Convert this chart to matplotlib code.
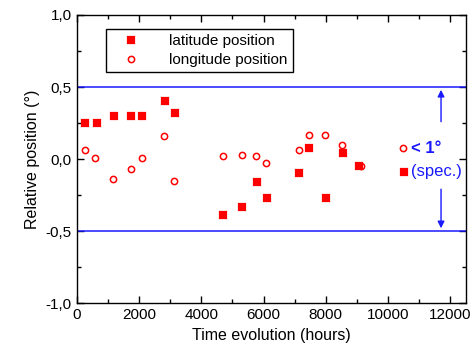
import matplotlib
matplotlib.use("Agg")
import matplotlib.pyplot as plt
from matplotlib.ticker import MultipleLocator, FixedLocator, FixedFormatter

plt.rcParams['font.family'] = ['Liberation Sans', 'DejaVu Sans']
plt.rcParams['font.size'] = 11

# latitude position (hours, degrees)
lat_t = [250, 650, 1200, 1750, 2100, 2830, 3150, 4700, 5300, 5800, 6100,
         7150, 7470, 8000, 8550, 9050, 10500]
lat_v = [0.25, 0.25, 0.30, 0.30, 0.30, 0.40, 0.32, -0.39, -0.33, -0.16, -0.27,
         -0.10, 0.074, -0.27, 0.04, -0.05, -0.09]

# longitude position (hours, degrees)
lon_t = [250, 600, 1170, 1750, 2080, 2800, 3120, 4700, 5300, 5760, 6090,
         7140, 7470, 7970, 8510, 9130, 10470]
lon_v = [0.06, 0.01, -0.14, -0.07, 0.01, 0.16, -0.15, 0.02, 0.03, 0.02, -0.03,
         0.06, 0.17, 0.17, 0.095, -0.05, 0.075]

spec = 0.5                     # +/- spec limit
y_ticks = [-1.0, -0.5, 0.0, 0.5, 1.0]
y_labels = ['-1,0', '-0,5', '0,0', '0,5', '1,0']

blue = '#1a1aff'

fig = plt.figure(figsize=(4.74, 3.57), dpi=100)
ax = fig.add_axes([0.162, 0.151, 0.821, 0.807])

# latitude: red square with a small white mark inside
sq_out, = ax.plot(lat_t, lat_v, 's', ms=5, mfc='white', mec='red', mew=1.6, ls='none')
sq_in, = ax.plot(lat_t, lat_v, 's', ms=2.6, mfc='red', mec='red', mew=0, ls='none')
circ, = ax.plot(lon_t, lon_v, 'o', ms=4.5, mfc='none', mec='red', mew=1.1, ls='none')

# spec lines
ax.axhline(spec, color=blue, lw=1.1)
ax.axhline(-spec, color=blue, lw=1.1)

# arrows and annotation
ax.annotate('', xy=(11700, spec), xytext=(11700, 0.24),
            arrowprops=dict(arrowstyle='-|>', color=blue, lw=1, mutation_scale=10))
ax.annotate('', xy=(11700, -spec), xytext=(11700, -0.19),
            arrowprops=dict(arrowstyle='-|>', color=blue, lw=1, mutation_scale=10))
ax.text(10720, 0.075, '< 1°', color=blue, fontsize=12, fontweight='bold', va='center', ha='left')
ax.text(10720, -0.085, '(spec.)', color=blue, fontsize=12, va='center', ha='left')

ax.set_xlim(0, 12500)
ax.set_ylim(-1.0, 1.0)
ax.xaxis.set_major_locator(MultipleLocator(2000))
ax.xaxis.set_minor_locator(MultipleLocator(1000))
ax.yaxis.set_major_locator(FixedLocator(y_ticks))
ax.yaxis.set_major_formatter(FixedFormatter(y_labels))
ax.yaxis.set_minor_locator(MultipleLocator(0.25))
ax.tick_params(which='both', direction='in', top=True, right=True, width=1, labelsize=11)
ax.tick_params(which='major', length=5)
ax.tick_params(which='minor', length=3)
for s in ax.spines.values():
    s.set_linewidth(1)

ax.set_xlabel('Time evolution (hours)', fontsize=11.5)
ax.set_ylabel('Relative position (°)', fontsize=11.5)

leg = ax.legend([(sq_out, sq_in), circ], ['latitude position', 'longitude position'],
                loc='upper left', bbox_to_anchor=(0.075, 0.951), borderaxespad=0,
                fancybox=False, edgecolor='black', framealpha=1, fontsize=11,
                handlelength=2.6, borderpad=0.35, labelspacing=0.3, handletextpad=1.2)
leg.get_frame().set_linewidth(1)

fig.savefig('out.png', dpi=100)
